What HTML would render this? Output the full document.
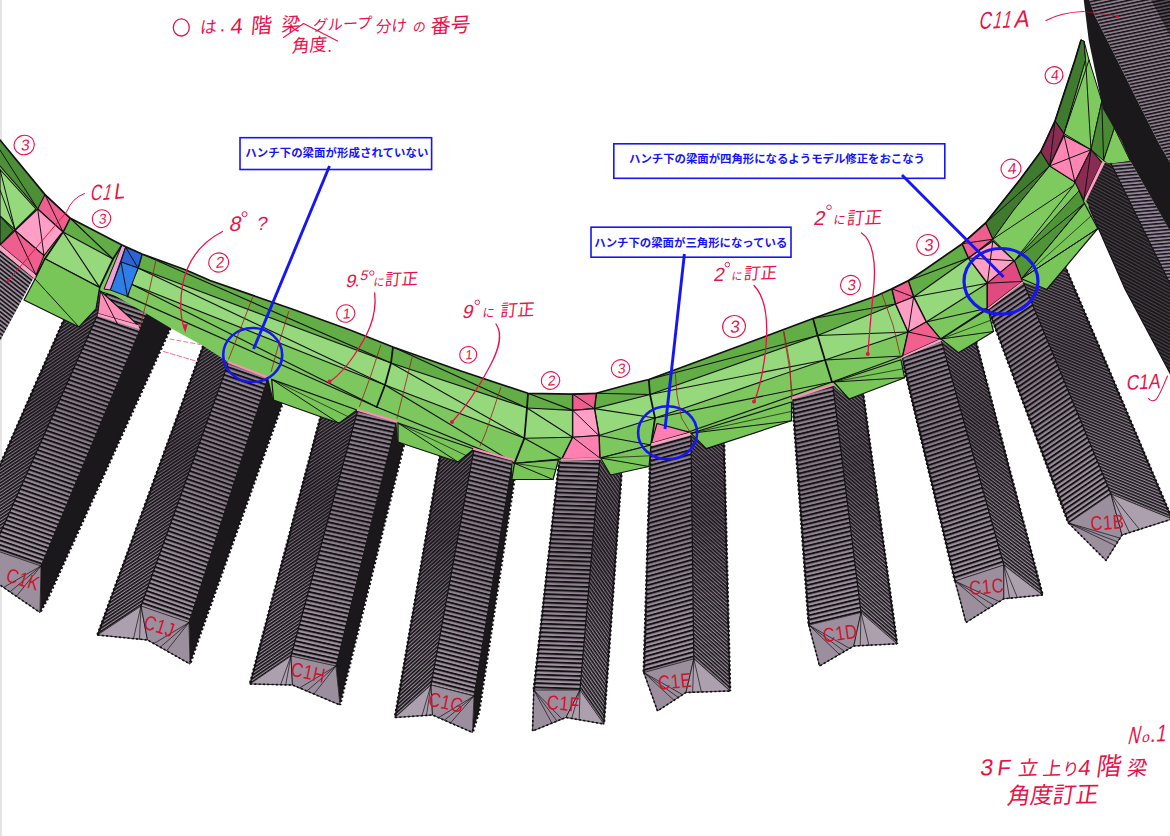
<!DOCTYPE html>
<html lang="ja"><head><meta charset="utf-8"><title>3F立上り4階梁 角度訂正 No.1</title>
<style>html,body{margin:0;padding:0;background:#fff}body{width:1170px;height:836px;overflow:hidden;font-family:"Liberation Sans",sans-serif}svg{display:block}</style>
</head><body>
<svg width="1170" height="836" viewBox="0 0 1170 836">
<defs>
<pattern id="p1" width="3.4" height="3.4" patternUnits="userSpaceOnUse" patternTransform="rotate(38)"><rect width="3.4" height="3.4" fill="#9a8c9b"/><rect width="3.4" height="1.6" fill="#141114"/></pattern>
<pattern id="p2" width="2.7" height="2.7" patternUnits="userSpaceOnUse" patternTransform="rotate(-34)"><rect width="2.7" height="2.7" fill="#9c8f9e"/><rect width="2.7" height="1.6" fill="#141114"/></pattern>
<linearGradient id="g1" gradientUnits="userSpaceOnUse" x1="110" y1="287" x2="-7" y2="549.5"><stop offset="0" stop-color="#1a141a" stop-opacity="0.3"/><stop offset="0.45" stop-color="#1a141a" stop-opacity="0.42"/><stop offset="0.85" stop-color="#1a141a" stop-opacity="0.05"/><stop offset="1" stop-color="#1a141a" stop-opacity="0.0"/></linearGradient>
<pattern id="p3" width="4.25" height="4.25" patternUnits="userSpaceOnUse" patternTransform="rotate(19)"><rect width="4.25" height="4.25" fill="#a294a3"/><rect width="4.25" height="2.0" fill="#141114"/></pattern>
<linearGradient id="g2" gradientUnits="userSpaceOnUse" x1="110" y1="287" x2="-7" y2="549.5"><stop offset="0" stop-color="#1a141a" stop-opacity="0.1"/><stop offset="0.45" stop-color="#1a141a" stop-opacity="0.22"/><stop offset="0.85" stop-color="#1a141a" stop-opacity="0.05"/><stop offset="1" stop-color="#1a141a" stop-opacity="0.0"/></linearGradient>
<pattern id="p4" width="2.7" height="2.7" patternUnits="userSpaceOnUse" patternTransform="rotate(-33.7)"><rect width="2.7" height="2.7" fill="#9c8f9e"/><rect width="2.7" height="1.6" fill="#141114"/></pattern>
<linearGradient id="g3" gradientUnits="userSpaceOnUse" x1="238.6" y1="334.1" x2="141" y2="606"><stop offset="0" stop-color="#1a141a" stop-opacity="0.3"/><stop offset="0.45" stop-color="#1a141a" stop-opacity="0.42"/><stop offset="0.85" stop-color="#1a141a" stop-opacity="0.05"/><stop offset="1" stop-color="#1a141a" stop-opacity="0.0"/></linearGradient>
<pattern id="p5" width="4.25" height="4.25" patternUnits="userSpaceOnUse" patternTransform="rotate(19)"><rect width="4.25" height="4.25" fill="#a294a3"/><rect width="4.25" height="2.0" fill="#141114"/></pattern>
<linearGradient id="g4" gradientUnits="userSpaceOnUse" x1="238.6" y1="334.1" x2="141" y2="606"><stop offset="0" stop-color="#1a141a" stop-opacity="0.1"/><stop offset="0.45" stop-color="#1a141a" stop-opacity="0.22"/><stop offset="0.85" stop-color="#1a141a" stop-opacity="0.05"/><stop offset="1" stop-color="#1a141a" stop-opacity="0.0"/></linearGradient>
<pattern id="p6" width="2.7" height="2.7" patternUnits="userSpaceOnUse" patternTransform="rotate(-34.3)"><rect width="2.7" height="2.7" fill="#9c8f9e"/><rect width="2.7" height="1.6" fill="#141114"/></pattern>
<linearGradient id="g5" gradientUnits="userSpaceOnUse" x1="365.7" y1="381" x2="291" y2="656"><stop offset="0" stop-color="#1a141a" stop-opacity="0.3"/><stop offset="0.45" stop-color="#1a141a" stop-opacity="0.42"/><stop offset="0.85" stop-color="#1a141a" stop-opacity="0.05"/><stop offset="1" stop-color="#1a141a" stop-opacity="0.0"/></linearGradient>
<pattern id="p7" width="4.25" height="4.25" patternUnits="userSpaceOnUse" patternTransform="rotate(12.5)"><rect width="4.25" height="4.25" fill="#a294a3"/><rect width="4.25" height="2.0" fill="#141114"/></pattern>
<linearGradient id="g6" gradientUnits="userSpaceOnUse" x1="365.7" y1="381" x2="291" y2="656"><stop offset="0" stop-color="#1a141a" stop-opacity="0.1"/><stop offset="0.45" stop-color="#1a141a" stop-opacity="0.22"/><stop offset="0.85" stop-color="#1a141a" stop-opacity="0.05"/><stop offset="1" stop-color="#1a141a" stop-opacity="0.0"/></linearGradient>
<pattern id="p8" width="2.7" height="2.7" patternUnits="userSpaceOnUse" patternTransform="rotate(-42.1)"><rect width="2.7" height="2.7" fill="#9c8f9e"/><rect width="2.7" height="1.6" fill="#141114"/></pattern>
<linearGradient id="g7" gradientUnits="userSpaceOnUse" x1="479.4" y1="419.5" x2="431" y2="685"><stop offset="0" stop-color="#1a141a" stop-opacity="0.3"/><stop offset="0.45" stop-color="#1a141a" stop-opacity="0.42"/><stop offset="0.85" stop-color="#1a141a" stop-opacity="0.05"/><stop offset="1" stop-color="#1a141a" stop-opacity="0.0"/></linearGradient>
<pattern id="p9" width="4.25" height="4.25" patternUnits="userSpaceOnUse" patternTransform="rotate(14.3)"><rect width="4.25" height="4.25" fill="#a294a3"/><rect width="4.25" height="2.0" fill="#141114"/></pattern>
<linearGradient id="g8" gradientUnits="userSpaceOnUse" x1="479.4" y1="419.5" x2="431" y2="685"><stop offset="0" stop-color="#1a141a" stop-opacity="0.1"/><stop offset="0.45" stop-color="#1a141a" stop-opacity="0.22"/><stop offset="0.85" stop-color="#1a141a" stop-opacity="0.05"/><stop offset="1" stop-color="#1a141a" stop-opacity="0.0"/></linearGradient>
<pattern id="p10" width="4.25" height="4.25" patternUnits="userSpaceOnUse" patternTransform="rotate(2)"><rect width="4.25" height="4.25" fill="#a294a3"/><rect width="4.25" height="2.0" fill="#141114"/></pattern>
<linearGradient id="g9" gradientUnits="userSpaceOnUse" x1="602.4" y1="429" x2="580" y2="690"><stop offset="0" stop-color="#1a141a" stop-opacity="0.1"/><stop offset="0.45" stop-color="#1a141a" stop-opacity="0.22"/><stop offset="0.85" stop-color="#1a141a" stop-opacity="0.05"/><stop offset="1" stop-color="#1a141a" stop-opacity="0.0"/></linearGradient>
<pattern id="p11" width="2.7" height="2.7" patternUnits="userSpaceOnUse" patternTransform="rotate(55.1)"><rect width="2.7" height="2.7" fill="#9c8f9e"/><rect width="2.7" height="1.5" fill="#141114"/></pattern>
<linearGradient id="g10" gradientUnits="userSpaceOnUse" x1="602.4" y1="429" x2="580" y2="690"><stop offset="0" stop-color="#1a141a" stop-opacity="0.25"/><stop offset="0.45" stop-color="#1a141a" stop-opacity="0.38"/><stop offset="0.85" stop-color="#1a141a" stop-opacity="0.05"/><stop offset="1" stop-color="#1a141a" stop-opacity="0.0"/></linearGradient>
<pattern id="p12" width="4.25" height="4.25" patternUnits="userSpaceOnUse" patternTransform="rotate(-15.4)"><rect width="4.25" height="4.25" fill="#a294a3"/><rect width="4.25" height="2.0" fill="#141114"/></pattern>
<linearGradient id="g11" gradientUnits="userSpaceOnUse" x1="690.6" y1="405" x2="693.8" y2="658.8"><stop offset="0" stop-color="#1a141a" stop-opacity="0.1"/><stop offset="0.45" stop-color="#1a141a" stop-opacity="0.22"/><stop offset="0.85" stop-color="#1a141a" stop-opacity="0.05"/><stop offset="1" stop-color="#1a141a" stop-opacity="0.0"/></linearGradient>
<pattern id="p13" width="2.7" height="2.7" patternUnits="userSpaceOnUse" patternTransform="rotate(41.7)"><rect width="2.7" height="2.7" fill="#9c8f9e"/><rect width="2.7" height="1.5" fill="#141114"/></pattern>
<linearGradient id="g12" gradientUnits="userSpaceOnUse" x1="690.6" y1="405" x2="693.8" y2="658.8"><stop offset="0" stop-color="#1a141a" stop-opacity="0.25"/><stop offset="0.45" stop-color="#1a141a" stop-opacity="0.38"/><stop offset="0.85" stop-color="#1a141a" stop-opacity="0.05"/><stop offset="1" stop-color="#1a141a" stop-opacity="0.0"/></linearGradient>
<pattern id="p14" width="4.25" height="4.25" patternUnits="userSpaceOnUse" patternTransform="rotate(-13.5)"><rect width="4.25" height="4.25" fill="#a294a3"/><rect width="4.25" height="2.0" fill="#141114"/></pattern>
<linearGradient id="g13" gradientUnits="userSpaceOnUse" x1="829.1" y1="355.2" x2="861" y2="612.5"><stop offset="0" stop-color="#1a141a" stop-opacity="0.1"/><stop offset="0.45" stop-color="#1a141a" stop-opacity="0.22"/><stop offset="0.85" stop-color="#1a141a" stop-opacity="0.05"/><stop offset="1" stop-color="#1a141a" stop-opacity="0.0"/></linearGradient>
<pattern id="p15" width="2.7" height="2.7" patternUnits="userSpaceOnUse" patternTransform="rotate(41)"><rect width="2.7" height="2.7" fill="#9c8f9e"/><rect width="2.7" height="1.5" fill="#141114"/></pattern>
<linearGradient id="g14" gradientUnits="userSpaceOnUse" x1="829.1" y1="355.2" x2="861" y2="612.5"><stop offset="0" stop-color="#1a141a" stop-opacity="0.25"/><stop offset="0.45" stop-color="#1a141a" stop-opacity="0.38"/><stop offset="0.85" stop-color="#1a141a" stop-opacity="0.05"/><stop offset="1" stop-color="#1a141a" stop-opacity="0.0"/></linearGradient>
<pattern id="p16" width="4.25" height="4.25" patternUnits="userSpaceOnUse" patternTransform="rotate(-18.2)"><rect width="4.25" height="4.25" fill="#a294a3"/><rect width="4.25" height="2.0" fill="#141114"/></pattern>
<linearGradient id="g15" gradientUnits="userSpaceOnUse" x1="933.4" y1="312.1" x2="1003.8" y2="565"><stop offset="0" stop-color="#1a141a" stop-opacity="0.1"/><stop offset="0.45" stop-color="#1a141a" stop-opacity="0.22"/><stop offset="0.85" stop-color="#1a141a" stop-opacity="0.05"/><stop offset="1" stop-color="#1a141a" stop-opacity="0.0"/></linearGradient>
<pattern id="p17" width="2.7" height="2.7" patternUnits="userSpaceOnUse" patternTransform="rotate(37.7)"><rect width="2.7" height="2.7" fill="#9c8f9e"/><rect width="2.7" height="1.5" fill="#141114"/></pattern>
<linearGradient id="g16" gradientUnits="userSpaceOnUse" x1="933.4" y1="312.1" x2="1003.8" y2="565"><stop offset="0" stop-color="#1a141a" stop-opacity="0.25"/><stop offset="0.45" stop-color="#1a141a" stop-opacity="0.38"/><stop offset="0.85" stop-color="#1a141a" stop-opacity="0.05"/><stop offset="1" stop-color="#1a141a" stop-opacity="0.0"/></linearGradient>
<pattern id="p18" width="4.25" height="4.25" patternUnits="userSpaceOnUse" patternTransform="rotate(-34.3)"><rect width="4.25" height="4.25" fill="#a294a3"/><rect width="4.25" height="2.0" fill="#141114"/></pattern>
<linearGradient id="g17" gradientUnits="userSpaceOnUse" x1="1011.8" y1="254.6" x2="1111" y2="494"><stop offset="0" stop-color="#1a141a" stop-opacity="0.1"/><stop offset="0.45" stop-color="#1a141a" stop-opacity="0.22"/><stop offset="0.85" stop-color="#1a141a" stop-opacity="0.05"/><stop offset="1" stop-color="#1a141a" stop-opacity="0.0"/></linearGradient>
<pattern id="p19" width="2.7" height="2.7" patternUnits="userSpaceOnUse" patternTransform="rotate(22.3)"><rect width="2.7" height="2.7" fill="#9c8f9e"/><rect width="2.7" height="1.5" fill="#141114"/></pattern>
<linearGradient id="g18" gradientUnits="userSpaceOnUse" x1="1011.8" y1="254.6" x2="1111" y2="494"><stop offset="0" stop-color="#1a141a" stop-opacity="0.25"/><stop offset="0.45" stop-color="#1a141a" stop-opacity="0.38"/><stop offset="0.85" stop-color="#1a141a" stop-opacity="0.05"/><stop offset="1" stop-color="#1a141a" stop-opacity="0.0"/></linearGradient>
<clipPath id="bandclip"><polygon points="0,140 45,194.6 70,218 122,245 142,254 186,270 210,280.5 292,309 350,330 393,347 458,370 528,393.3 572.8,394.2 596.2,393.3 630,384 648.8,379.5 755.6,340 813,318.5 876,296 892,288.8 908.2,280.8 924.4,270 962.3,243.7 985.6,223 1019.7,180 1040.8,151.5 1055,121 1075,60 1081,40 1089,60 1101.8,101 1128.7,153 1109,164 1107.4,162.5 1086,200 1088,206 1097.8,228.5 1046.7,289.5 1023.3,282.3 988.3,309.2 993.5,331.5 958.5,352.8 941.4,341 902,358 904.6,377.7 849,399 832.8,385 792.4,398.3 791.5,420.8 706.3,448.6 691,435 650.6,446 649,466.5 610.5,475 599.8,458.9 559.4,460.6 553,479.5 511.8,479.5 512.7,459.8 474,449 458,462 398,442 396.4,421.5 357.8,410 339,423.3 273.5,400 268,377.6 228.5,362.3 203.3,346 170.5,328 147,314 113,294.6 100.5,291 96,309 79,327 24,300 35,279 0,250"/></clipPath>
<pattern id="p20" width="3.0" height="3.0" patternUnits="userSpaceOnUse" patternTransform="rotate(28)"><rect width="3.0" height="3.0" fill="#4a424a"/><rect width="3.0" height="1.9" fill="#1a171a"/></pattern>
<pattern id="p21" width="3.4" height="3.4" patternUnits="userSpaceOnUse" patternTransform="rotate(-5)"><rect width="3.4" height="3.4" fill="#93859a"/><rect width="3.4" height="1.5" fill="#141114"/></pattern>
<pattern id="p22" width="3.3" height="3.3" patternUnits="userSpaceOnUse" patternTransform="rotate(-12)"><rect width="3.3" height="3.3" fill="#8a7b8a"/><rect width="3.3" height="1.5" fill="#141114"/></pattern>
<pattern id="p23" width="3.3" height="3.3" patternUnits="userSpaceOnUse" patternTransform="rotate(-12)"><rect width="3.3" height="3.3" fill="#5a505a"/><rect width="3.3" height="1.8" fill="#141114"/></pattern>
</defs>
<rect width="1170" height="836" fill="#fff"/>
<rect x="0" y="0" width="2" height="836" fill="#e4e4e4"/>
<polygon points="0,238 40,272 33,279 0,341" fill="url(#p1)" stroke="none" stroke-width="1" stroke-linejoin="round" />
<polygon points="74.9,294.9 110,287 -7,549.5 -50,579" fill="url(#p2)" stroke="none" stroke-width="1" stroke-linejoin="round" />
<polygon points="74.9,294.9 110,287 -7,549.5 -50,579" fill="url(#g1)" stroke="none" stroke-width="1" stroke-linejoin="round" />
<polygon points="110,287 151.6,301.9 41,566 -7,549.5" fill="url(#p3)" stroke="none" stroke-width="1" stroke-linejoin="round" />
<polygon points="110,287 151.6,301.9 41,566 -7,549.5" fill="url(#g2)" stroke="none" stroke-width="1" stroke-linejoin="round" />
<polygon points="151.6,301.9 182.9,300.7 48,598 40,612.5 41,566" fill="#1b181b" stroke="none" stroke-width="1" stroke-linejoin="round" />
<polygon points="-50,579 -7,549.5 -3,583" fill="#ada0ae" stroke="#141114" stroke-width="0.8" stroke-linejoin="round" />
<polygon points="-7,549.5 41,566 40,612.5 -3,583" fill="#9b8e9d" stroke="#141114" stroke-width="0.8" stroke-linejoin="round" />
<polyline points="41,566 3.5,587.4" fill="none" stroke="#141114" stroke-width="0.7" stroke-linecap="round" stroke-linejoin="round" />
<polyline points="41,566 9.9,591.9" fill="none" stroke="#141114" stroke-width="0.7" stroke-linecap="round" stroke-linejoin="round" />
<polyline points="41,566 16.3,596.3" fill="none" stroke="#141114" stroke-width="0.7" stroke-linecap="round" stroke-linejoin="round" />
<polyline points="-7,549.5 -16.2,581.9" fill="none" stroke="#141114" stroke-width="0.7" stroke-linecap="round" stroke-linejoin="round" />
<polyline points="-7,549.5 -10.5,582.4" fill="none" stroke="#141114" stroke-width="0.7" stroke-linecap="round" stroke-linejoin="round" />
<polyline points="74.9,294.9 -50,579" fill="none" stroke="#141114" stroke-width="1.2" stroke-linecap="round" stroke-linejoin="round" />
<polyline points="110,287 -7,549.5" fill="none" stroke="#141114" stroke-width="1.2" stroke-linecap="round" stroke-linejoin="round" />
<polyline points="151.6,301.9 41,566" fill="none" stroke="#141114" stroke-width="1.0" stroke-linecap="round" stroke-linejoin="round" />
<polyline points="74.9,294.9 -50,579" fill="none" stroke="#141114" stroke-width="2.6" stroke-linecap="butt" stroke-linejoin="round" stroke-dasharray="2.1 2.2"/>
<polyline points="182.9,300.7 48,598 40,612.5" fill="none" stroke="#141114" stroke-width="2.6" stroke-linecap="butt" stroke-linejoin="round" stroke-dasharray="2.1 2.2"/>
<polyline points="-50,579 -3,583 40,612.5" fill="none" stroke="#141114" stroke-width="1.6" stroke-linecap="butt" stroke-linejoin="round" stroke-dasharray="2.1 2.2"/>
<polygon points="213.6,317.8 238.6,334.1 141,606 97.5,635" fill="url(#p4)" stroke="none" stroke-width="1" stroke-linejoin="round" />
<polygon points="213.6,317.8 238.6,334.1 141,606 97.5,635" fill="url(#g3)" stroke="none" stroke-width="1" stroke-linejoin="round" />
<polygon points="238.6,334.1 277.2,349 189,622.5 141,606" fill="url(#p5)" stroke="none" stroke-width="1" stroke-linejoin="round" />
<polygon points="238.6,334.1 277.2,349 189,622.5 141,606" fill="url(#g4)" stroke="none" stroke-width="1" stroke-linejoin="round" />
<polygon points="277.2,349 299.1,356.7 200,635 190,664 189,622.5" fill="#1b181b" stroke="none" stroke-width="1" stroke-linejoin="round" />
<polygon points="97.5,635 141,606 147.5,640" fill="#ada0ae" stroke="#141114" stroke-width="0.8" stroke-linejoin="round" />
<polygon points="141,606 189,622.5 190,664 147.5,640" fill="#9b8e9d" stroke="#141114" stroke-width="0.8" stroke-linejoin="round" />
<polyline points="189,622.5 153.9,643.6" fill="none" stroke="#141114" stroke-width="0.7" stroke-linecap="round" stroke-linejoin="round" />
<polyline points="189,622.5 160.2,647.2" fill="none" stroke="#141114" stroke-width="0.7" stroke-linecap="round" stroke-linejoin="round" />
<polyline points="189,622.5 166.6,650.8" fill="none" stroke="#141114" stroke-width="0.7" stroke-linecap="round" stroke-linejoin="round" />
<polyline points="141,606 133.5,638.6" fill="none" stroke="#141114" stroke-width="0.7" stroke-linecap="round" stroke-linejoin="round" />
<polyline points="141,606 139.5,639.2" fill="none" stroke="#141114" stroke-width="0.7" stroke-linecap="round" stroke-linejoin="round" />
<polyline points="213.6,317.8 97.5,635" fill="none" stroke="#141114" stroke-width="1.2" stroke-linecap="round" stroke-linejoin="round" />
<polyline points="238.6,334.1 141,606" fill="none" stroke="#141114" stroke-width="1.2" stroke-linecap="round" stroke-linejoin="round" />
<polyline points="277.2,349 189,622.5" fill="none" stroke="#141114" stroke-width="1.0" stroke-linecap="round" stroke-linejoin="round" />
<polyline points="213.6,317.8 97.5,635" fill="none" stroke="#141114" stroke-width="2.6" stroke-linecap="butt" stroke-linejoin="round" stroke-dasharray="2.1 2.2"/>
<polyline points="299.1,356.7 200,635 190,664" fill="none" stroke="#141114" stroke-width="2.6" stroke-linecap="butt" stroke-linejoin="round" stroke-dasharray="2.1 2.2"/>
<polyline points="97.5,635 147.5,640 190,664" fill="none" stroke="#141114" stroke-width="1.6" stroke-linecap="butt" stroke-linejoin="round" stroke-dasharray="2.1 2.2"/>
<polygon points="327.7,389.9 365.7,381 291,656 250,684" fill="url(#p6)" stroke="none" stroke-width="1" stroke-linejoin="round" />
<polygon points="327.7,389.9 365.7,381 291,656 250,684" fill="url(#g5)" stroke="none" stroke-width="1" stroke-linejoin="round" />
<polygon points="365.7,381 403.6,392.4 336,666 291,656" fill="url(#p7)" stroke="none" stroke-width="1" stroke-linejoin="round" />
<polygon points="365.7,381 403.6,392.4 336,666 291,656" fill="url(#g6)" stroke="none" stroke-width="1" stroke-linejoin="round" />
<polygon points="403.6,392.4 416.2,394.9 346,680 340,705 336,666" fill="#1b181b" stroke="none" stroke-width="1" stroke-linejoin="round" />
<polygon points="250,684 291,656 292.5,685" fill="#ada0ae" stroke="#141114" stroke-width="0.8" stroke-linejoin="round" />
<polygon points="291,656 336,666 340,705 292.5,685" fill="#9b8e9d" stroke="#141114" stroke-width="0.8" stroke-linejoin="round" />
<polyline points="336,666 299.6,688" fill="none" stroke="#141114" stroke-width="0.7" stroke-linecap="round" stroke-linejoin="round" />
<polyline points="336,666 306.8,691" fill="none" stroke="#141114" stroke-width="0.7" stroke-linecap="round" stroke-linejoin="round" />
<polyline points="336,666 313.9,694" fill="none" stroke="#141114" stroke-width="0.7" stroke-linecap="round" stroke-linejoin="round" />
<polyline points="291,656 280.6,684.7" fill="none" stroke="#141114" stroke-width="0.7" stroke-linecap="round" stroke-linejoin="round" />
<polyline points="291,656 285.7,684.8" fill="none" stroke="#141114" stroke-width="0.7" stroke-linecap="round" stroke-linejoin="round" />
<polyline points="327.7,389.9 250,684" fill="none" stroke="#141114" stroke-width="1.2" stroke-linecap="round" stroke-linejoin="round" />
<polyline points="365.7,381 291,656" fill="none" stroke="#141114" stroke-width="1.2" stroke-linecap="round" stroke-linejoin="round" />
<polyline points="403.6,392.4 336,666" fill="none" stroke="#141114" stroke-width="1.0" stroke-linecap="round" stroke-linejoin="round" />
<polyline points="327.7,389.9 250,684" fill="none" stroke="#141114" stroke-width="2.6" stroke-linecap="butt" stroke-linejoin="round" stroke-dasharray="2.1 2.2"/>
<polyline points="416.2,394.9 346,680 340,705" fill="none" stroke="#141114" stroke-width="2.6" stroke-linecap="butt" stroke-linejoin="round" stroke-dasharray="2.1 2.2"/>
<polyline points="250,684 292.5,685 340,705" fill="none" stroke="#141114" stroke-width="1.6" stroke-linecap="butt" stroke-linejoin="round" stroke-dasharray="2.1 2.2"/>
<polygon points="444.6,429.4 479.4,419.5 431,685 395,717.5" fill="url(#p8)" stroke="none" stroke-width="1" stroke-linejoin="round" />
<polygon points="444.6,429.4 479.4,419.5 431,685 395,717.5" fill="url(#g7)" stroke="none" stroke-width="1" stroke-linejoin="round" />
<polygon points="479.4,419.5 517.6,430.2 474,696 431,685" fill="url(#p9)" stroke="none" stroke-width="1" stroke-linejoin="round" />
<polygon points="479.4,419.5 517.6,430.2 474,696 431,685" fill="url(#g8)" stroke="none" stroke-width="1" stroke-linejoin="round" />
<polygon points="517.6,430.2 521.5,432.3 479,712 472.5,732.5 474,696" fill="#1b181b" stroke="none" stroke-width="1" stroke-linejoin="round" />
<polygon points="395,717.5 431,685 432.5,715" fill="#ada0ae" stroke="#141114" stroke-width="0.8" stroke-linejoin="round" />
<polygon points="431,685 474,696 472.5,732.5 432.5,715" fill="#9b8e9d" stroke="#141114" stroke-width="0.8" stroke-linejoin="round" />
<polyline points="474,696 438.5,717.6" fill="none" stroke="#141114" stroke-width="0.7" stroke-linecap="round" stroke-linejoin="round" />
<polyline points="474,696 444.5,720.2" fill="none" stroke="#141114" stroke-width="0.7" stroke-linecap="round" stroke-linejoin="round" />
<polyline points="474,696 450.5,722.9" fill="none" stroke="#141114" stroke-width="0.7" stroke-linecap="round" stroke-linejoin="round" />
<polyline points="431,685 422,715.7" fill="none" stroke="#141114" stroke-width="0.7" stroke-linecap="round" stroke-linejoin="round" />
<polyline points="431,685 426.5,715.4" fill="none" stroke="#141114" stroke-width="0.7" stroke-linecap="round" stroke-linejoin="round" />
<polyline points="444.6,429.4 395,717.5" fill="none" stroke="#141114" stroke-width="1.2" stroke-linecap="round" stroke-linejoin="round" />
<polyline points="479.4,419.5 431,685" fill="none" stroke="#141114" stroke-width="1.2" stroke-linecap="round" stroke-linejoin="round" />
<polyline points="517.6,430.2 474,696" fill="none" stroke="#141114" stroke-width="1.0" stroke-linecap="round" stroke-linejoin="round" />
<polyline points="444.6,429.4 395,717.5" fill="none" stroke="#141114" stroke-width="2.6" stroke-linecap="butt" stroke-linejoin="round" stroke-dasharray="2.1 2.2"/>
<polyline points="521.5,432.3 479,712 472.5,732.5" fill="none" stroke="#141114" stroke-width="2.6" stroke-linecap="butt" stroke-linejoin="round" stroke-dasharray="2.1 2.2"/>
<polyline points="395,717.5 432.5,715 472.5,732.5" fill="none" stroke="#141114" stroke-width="1.6" stroke-linecap="butt" stroke-linejoin="round" stroke-dasharray="2.1 2.2"/>
<polygon points="562.7,430.8 602.4,429 580,690 533.8,690" fill="url(#p10)" stroke="none" stroke-width="1" stroke-linejoin="round" />
<polygon points="562.7,430.8 602.4,429 580,690 533.8,690" fill="url(#g9)" stroke="none" stroke-width="1" stroke-linejoin="round" />
<polygon points="602.4,429 623.4,445.1 603.8,724 580,690" fill="url(#p11)" stroke="none" stroke-width="1" stroke-linejoin="round" />
<polygon points="602.4,429 623.4,445.1 603.8,724 580,690" fill="url(#g10)" stroke="none" stroke-width="1" stroke-linejoin="round" />
<polygon points="533.8,690 580,690 566,717.5 532.5,731" fill="#9b8e9d" stroke="#141114" stroke-width="0.8" stroke-linejoin="round" />
<polygon points="580,690 603.8,724 566,717.5" fill="#ada0ae" stroke="#141114" stroke-width="0.8" stroke-linejoin="round" />
<polyline points="533.8,690 551.9,723.2" fill="none" stroke="#141114" stroke-width="0.7" stroke-linecap="round" stroke-linejoin="round" />
<polyline points="533.8,690 557,721.1" fill="none" stroke="#141114" stroke-width="0.7" stroke-linecap="round" stroke-linejoin="round" />
<polyline points="533.8,690 562,719.1" fill="none" stroke="#141114" stroke-width="0.7" stroke-linecap="round" stroke-linejoin="round" />
<polyline points="580,690 571.7,718.5" fill="none" stroke="#141114" stroke-width="0.7" stroke-linecap="round" stroke-linejoin="round" />
<polyline points="580,690 579.2,719.8" fill="none" stroke="#141114" stroke-width="0.7" stroke-linecap="round" stroke-linejoin="round" />
<polyline points="562.7,430.8 533.8,690" fill="none" stroke="#141114" stroke-width="1.2" stroke-linecap="round" stroke-linejoin="round" />
<polyline points="602.4,429 580,690" fill="none" stroke="#141114" stroke-width="1.2" stroke-linecap="round" stroke-linejoin="round" />
<polyline points="623.4,445.1 603.8,724" fill="none" stroke="#141114" stroke-width="1.2" stroke-linecap="round" stroke-linejoin="round" />
<polyline points="562.7,430.8 533.8,690" fill="none" stroke="#141114" stroke-width="2.6" stroke-linecap="butt" stroke-linejoin="round" stroke-dasharray="2.1 2.2"/>
<polyline points="623.4,445.1 603.8,724" fill="none" stroke="#141114" stroke-width="2.6" stroke-linecap="butt" stroke-linejoin="round" stroke-dasharray="2.1 2.2"/>
<polyline points="533.8,690 532.5,731 566,717.5 603.8,724" fill="none" stroke="#141114" stroke-width="1.6" stroke-linecap="butt" stroke-linejoin="round" stroke-dasharray="2.1 2.2"/>
<polygon points="651.5,416 690.6,405 693.8,658.8 643.8,672.5" fill="url(#p12)" stroke="none" stroke-width="1" stroke-linejoin="round" />
<polygon points="651.5,416 690.6,405 693.8,658.8 643.8,672.5" fill="url(#g11)" stroke="none" stroke-width="1" stroke-linejoin="round" />
<polygon points="690.6,405 723.3,415 730,691 693.8,658.8" fill="url(#p13)" stroke="none" stroke-width="1" stroke-linejoin="round" />
<polygon points="690.6,405 723.3,415 730,691 693.8,658.8" fill="url(#g12)" stroke="none" stroke-width="1" stroke-linejoin="round" />
<polygon points="643.8,672.5 693.8,658.8 686,692.5 657.5,711" fill="#9b8e9d" stroke="#141114" stroke-width="0.8" stroke-linejoin="round" />
<polygon points="693.8,658.8 730,691 686,692.5" fill="#ada0ae" stroke="#141114" stroke-width="0.8" stroke-linejoin="round" />
<polyline points="643.8,672.5 674,700.3" fill="none" stroke="#141114" stroke-width="0.7" stroke-linecap="round" stroke-linejoin="round" />
<polyline points="643.8,672.5 678.3,697.5" fill="none" stroke="#141114" stroke-width="0.7" stroke-linecap="round" stroke-linejoin="round" />
<polyline points="643.8,672.5 682.6,694.7" fill="none" stroke="#141114" stroke-width="0.7" stroke-linecap="round" stroke-linejoin="round" />
<polyline points="693.8,658.8 692.6,692.3" fill="none" stroke="#141114" stroke-width="0.7" stroke-linecap="round" stroke-linejoin="round" />
<polyline points="693.8,658.8 701.4,692" fill="none" stroke="#141114" stroke-width="0.7" stroke-linecap="round" stroke-linejoin="round" />
<polyline points="651.5,416 643.8,672.5" fill="none" stroke="#141114" stroke-width="1.2" stroke-linecap="round" stroke-linejoin="round" />
<polyline points="690.6,405 693.8,658.8" fill="none" stroke="#141114" stroke-width="1.2" stroke-linecap="round" stroke-linejoin="round" />
<polyline points="723.3,415 730,691" fill="none" stroke="#141114" stroke-width="1.2" stroke-linecap="round" stroke-linejoin="round" />
<polyline points="651.5,416 643.8,672.5" fill="none" stroke="#141114" stroke-width="2.6" stroke-linecap="butt" stroke-linejoin="round" stroke-dasharray="2.1 2.2"/>
<polyline points="723.3,415 730,691" fill="none" stroke="#141114" stroke-width="2.6" stroke-linecap="butt" stroke-linejoin="round" stroke-dasharray="2.1 2.2"/>
<polyline points="643.8,672.5 657.5,711 686,692.5 730,691" fill="none" stroke="#141114" stroke-width="1.6" stroke-linecap="butt" stroke-linejoin="round" stroke-dasharray="2.1 2.2"/>
<polygon points="790.2,368.4 829.1,355.2 861,612.5 808.8,625" fill="url(#p14)" stroke="none" stroke-width="1" stroke-linejoin="round" />
<polygon points="790.2,368.4 829.1,355.2 861,612.5 808.8,625" fill="url(#g13)" stroke="none" stroke-width="1" stroke-linejoin="round" />
<polygon points="829.1,355.2 859.3,365.9 897,643.8 861,612.5" fill="url(#p15)" stroke="none" stroke-width="1" stroke-linejoin="round" />
<polygon points="829.1,355.2 859.3,365.9 897,643.8 861,612.5" fill="url(#g14)" stroke="none" stroke-width="1" stroke-linejoin="round" />
<polygon points="808.8,625 861,612.5 853.8,646 819.5,666" fill="#9b8e9d" stroke="#141114" stroke-width="0.8" stroke-linejoin="round" />
<polygon points="861,612.5 897,643.8 853.8,646" fill="#ada0ae" stroke="#141114" stroke-width="0.8" stroke-linejoin="round" />
<polyline points="808.8,625 839.4,654.4" fill="none" stroke="#141114" stroke-width="0.7" stroke-linecap="round" stroke-linejoin="round" />
<polyline points="808.8,625 844.5,651.4" fill="none" stroke="#141114" stroke-width="0.7" stroke-linecap="round" stroke-linejoin="round" />
<polyline points="808.8,625 849.6,648.4" fill="none" stroke="#141114" stroke-width="0.7" stroke-linecap="round" stroke-linejoin="round" />
<polyline points="861,612.5 860.2,645.7" fill="none" stroke="#141114" stroke-width="0.7" stroke-linecap="round" stroke-linejoin="round" />
<polyline points="861,612.5 868.9,645.2" fill="none" stroke="#141114" stroke-width="0.7" stroke-linecap="round" stroke-linejoin="round" />
<polyline points="790.2,368.4 808.8,625" fill="none" stroke="#141114" stroke-width="1.2" stroke-linecap="round" stroke-linejoin="round" />
<polyline points="829.1,355.2 861,612.5" fill="none" stroke="#141114" stroke-width="1.2" stroke-linecap="round" stroke-linejoin="round" />
<polyline points="859.3,365.9 897,643.8" fill="none" stroke="#141114" stroke-width="1.2" stroke-linecap="round" stroke-linejoin="round" />
<polyline points="790.2,368.4 808.8,625" fill="none" stroke="#141114" stroke-width="2.6" stroke-linecap="butt" stroke-linejoin="round" stroke-dasharray="2.1 2.2"/>
<polyline points="859.3,365.9 897,643.8" fill="none" stroke="#141114" stroke-width="2.6" stroke-linecap="butt" stroke-linejoin="round" stroke-dasharray="2.1 2.2"/>
<polyline points="808.8,625 819.5,666 853.8,646 897,643.8" fill="none" stroke="#141114" stroke-width="1.6" stroke-linecap="butt" stroke-linejoin="round" stroke-dasharray="2.1 2.2"/>
<polygon points="895.1,328.8 933.4,312.1 1003.8,565 955,581" fill="url(#p16)" stroke="none" stroke-width="1" stroke-linejoin="round" />
<polygon points="895.1,328.8 933.4,312.1 1003.8,565 955,581" fill="url(#g15)" stroke="none" stroke-width="1" stroke-linejoin="round" />
<polygon points="933.4,312.1 969.4,317 1042.5,595 1003.8,565" fill="url(#p17)" stroke="none" stroke-width="1" stroke-linejoin="round" />
<polygon points="933.4,312.1 969.4,317 1042.5,595 1003.8,565" fill="url(#g16)" stroke="none" stroke-width="1" stroke-linejoin="round" />
<polygon points="955,581 1003.8,565 1003.8,598.8 966,622.5" fill="#9b8e9d" stroke="#141114" stroke-width="0.8" stroke-linejoin="round" />
<polygon points="1003.8,565 1042.5,595 1003.8,598.8" fill="#ada0ae" stroke="#141114" stroke-width="0.8" stroke-linejoin="round" />
<polyline points="955,581 987.9,608.7" fill="none" stroke="#141114" stroke-width="0.7" stroke-linecap="round" stroke-linejoin="round" />
<polyline points="955,581 993.6,605.2" fill="none" stroke="#141114" stroke-width="0.7" stroke-linecap="round" stroke-linejoin="round" />
<polyline points="955,581 999.2,601.6" fill="none" stroke="#141114" stroke-width="0.7" stroke-linecap="round" stroke-linejoin="round" />
<polyline points="1003.8,565 1009.6,598.2" fill="none" stroke="#141114" stroke-width="0.7" stroke-linecap="round" stroke-linejoin="round" />
<polyline points="1003.8,565 1017.3,597.4" fill="none" stroke="#141114" stroke-width="0.7" stroke-linecap="round" stroke-linejoin="round" />
<polyline points="895.1,328.8 955,581" fill="none" stroke="#141114" stroke-width="1.2" stroke-linecap="round" stroke-linejoin="round" />
<polyline points="933.4,312.1 1003.8,565" fill="none" stroke="#141114" stroke-width="1.2" stroke-linecap="round" stroke-linejoin="round" />
<polyline points="969.4,317 1042.5,595" fill="none" stroke="#141114" stroke-width="1.2" stroke-linecap="round" stroke-linejoin="round" />
<polyline points="895.1,328.8 955,581" fill="none" stroke="#141114" stroke-width="2.6" stroke-linecap="butt" stroke-linejoin="round" stroke-dasharray="2.1 2.2"/>
<polyline points="969.4,317 1042.5,595" fill="none" stroke="#141114" stroke-width="2.6" stroke-linecap="butt" stroke-linejoin="round" stroke-dasharray="2.1 2.2"/>
<polyline points="955,581 966,622.5 1003.8,598.8 1042.5,595" fill="none" stroke="#141114" stroke-width="1.6" stroke-linecap="butt" stroke-linejoin="round" stroke-dasharray="2.1 2.2"/>
<polygon points="977.8,281.1 1011.8,254.6 1111,494 1068.5,523" fill="url(#p18)" stroke="none" stroke-width="1" stroke-linejoin="round" />
<polygon points="977.8,281.1 1011.8,254.6 1111,494 1068.5,523" fill="url(#g17)" stroke="none" stroke-width="1" stroke-linejoin="round" />
<polygon points="1011.8,254.6 1054.7,242.1 1172,519 1111,494" fill="url(#p19)" stroke="none" stroke-width="1" stroke-linejoin="round" />
<polygon points="1011.8,254.6 1054.7,242.1 1172,519 1111,494" fill="url(#g18)" stroke="none" stroke-width="1" stroke-linejoin="round" />
<polygon points="1068.5,523 1111,494 1122,535 1106,560.5" fill="#9b8e9d" stroke="#141114" stroke-width="0.8" stroke-linejoin="round" />
<polygon points="1111,494 1172,519 1122,535" fill="#ada0ae" stroke="#141114" stroke-width="0.8" stroke-linejoin="round" />
<polyline points="1068.5,523 1115.3,545.7" fill="none" stroke="#141114" stroke-width="0.7" stroke-linecap="round" stroke-linejoin="round" />
<polyline points="1068.5,523 1117.7,541.9" fill="none" stroke="#141114" stroke-width="0.7" stroke-linecap="round" stroke-linejoin="round" />
<polyline points="1068.5,523 1120.1,538.1" fill="none" stroke="#141114" stroke-width="0.7" stroke-linecap="round" stroke-linejoin="round" />
<polyline points="1111,494 1129.5,532.6" fill="none" stroke="#141114" stroke-width="0.7" stroke-linecap="round" stroke-linejoin="round" />
<polyline points="1111,494 1139.5,529.4" fill="none" stroke="#141114" stroke-width="0.7" stroke-linecap="round" stroke-linejoin="round" />
<polyline points="977.8,281.1 1068.5,523" fill="none" stroke="#141114" stroke-width="1.2" stroke-linecap="round" stroke-linejoin="round" />
<polyline points="1011.8,254.6 1111,494" fill="none" stroke="#141114" stroke-width="1.2" stroke-linecap="round" stroke-linejoin="round" />
<polyline points="1054.7,242.1 1172,519" fill="none" stroke="#141114" stroke-width="1.2" stroke-linecap="round" stroke-linejoin="round" />
<polyline points="977.8,281.1 1068.5,523" fill="none" stroke="#141114" stroke-width="2.6" stroke-linecap="butt" stroke-linejoin="round" stroke-dasharray="2.1 2.2"/>
<polyline points="1054.7,242.1 1172,519" fill="none" stroke="#141114" stroke-width="2.6" stroke-linecap="butt" stroke-linejoin="round" stroke-dasharray="2.1 2.2"/>
<polyline points="1068.5,523 1106,560.5 1122,535 1172,519" fill="none" stroke="#141114" stroke-width="1.6" stroke-linecap="butt" stroke-linejoin="round" stroke-dasharray="2.1 2.2"/>
<polygon points="0,140 45,194.6 70,218 122,245 142,254 186,270 210,280.5 292,309 350,330 393,347 458,370 528,393.3 572.8,394.2 596.2,393.3 630,384 648.8,379.5 755.6,340 813,318.5 876,296 892,288.8 908.2,280.8 924.4,270 962.3,243.7 985.6,223 1019.7,180 1040.8,151.5 1055,121 1075,60 1081,40 1089,60 1101.8,101 1128.7,153 1109,164 1107.4,162.5 1086,200 1088,206 1097.8,228.5 1046.7,289.5 1023.3,282.3 988.3,309.2 993.5,331.5 958.5,352.8 941.4,341 902,358 904.6,377.7 849,399 832.8,385 792.4,398.3 791.5,420.8 706.3,448.6 691,435 650.6,446 649,466.5 610.5,475 599.8,458.9 559.4,460.6 553,479.5 511.8,479.5 512.7,459.8 474,449 458,462 398,442 396.4,421.5 357.8,410 339,423.3 273.5,400 268,377.6 228.5,362.3 203.3,346 170.5,328 147,314 113,294.6 100.5,291 96,309 79,327 24,300 35,279 0,250" fill="#7cc75e" stroke="none" stroke-width="1" stroke-linejoin="round" />
<g clip-path="url(#bandclip)">
<polygon points="70,218 122,245 113,259 63,232" fill="#62ad45" stroke="none" stroke-width="1" stroke-linejoin="round" />
<polygon points="63,232 113,259 99.6,287.4 45,258.7" fill="#96d87c" stroke="none" stroke-width="1" stroke-linejoin="round" />
<polygon points="142,254 393,347 391,363 138,268" fill="#62ad45" stroke="none" stroke-width="1" stroke-linejoin="round" />
<polygon points="138,268 391,363 385,385 131,284" fill="#96d87c" stroke="none" stroke-width="1" stroke-linejoin="round" />
<polygon points="393,347 528,393.3 527,408 391,363" fill="#62ad45" stroke="none" stroke-width="1" stroke-linejoin="round" />
<polygon points="391,363 527,408 524.4,438.2 385,385" fill="#96d87c" stroke="none" stroke-width="1" stroke-linejoin="round" />
<polygon points="528,393.3 572.8,394.2 572.8,410.4 527,408" fill="#62ad45" stroke="none" stroke-width="1" stroke-linejoin="round" />
<polygon points="527,408 572.8,410.4 572.8,437.3 524.4,438.2" fill="#96d87c" stroke="none" stroke-width="1" stroke-linejoin="round" />
<polygon points="596.2,393.3 648.8,379.5 650,394.5 594.4,408.6" fill="#62ad45" stroke="none" stroke-width="1" stroke-linejoin="round" />
<polygon points="594.4,408.6 650,394.5 655,418 598.9,435.5" fill="#96d87c" stroke="none" stroke-width="1" stroke-linejoin="round" />
<polygon points="648.8,379.5 813,318.5 817.6,335.5 650,394.5" fill="#62ad45" stroke="none" stroke-width="1" stroke-linejoin="round" />
<polygon points="650,394.5 817.6,335.5 825,360 655,418" fill="#96d87c" stroke="none" stroke-width="1" stroke-linejoin="round" />
<polygon points="813,318.5 892,288.8 895.7,304 817.6,335.5" fill="#62ad45" stroke="none" stroke-width="1" stroke-linejoin="round" />
<polygon points="817.6,335.5 895.7,304 908.2,332 825,360" fill="#96d87c" stroke="none" stroke-width="1" stroke-linejoin="round" />
<polygon points="908.2,280.8 962.3,243.7 968.6,258 913.6,297" fill="#62ad45" stroke="none" stroke-width="1" stroke-linejoin="round" />
<polygon points="913.6,297 968.6,258 987.4,283.2 926.2,322" fill="#96d87c" stroke="none" stroke-width="1" stroke-linejoin="round" />
<polygon points="0,140 45,194.6 37.7,209 0,166" fill="#4c8f36" stroke="none" stroke-width="1" stroke-linejoin="round" />
<polyline points="70,218 113,259" fill="none" stroke="#111" stroke-width="1.15" stroke-linecap="round" stroke-linejoin="round" />
<polyline points="63,232 113,259" fill="none" stroke="#111" stroke-width="1.15" stroke-linecap="round" stroke-linejoin="round" />
<polyline points="63,232 99.6,287.4" fill="none" stroke="#111" stroke-width="1.15" stroke-linecap="round" stroke-linejoin="round" />
<polyline points="45,258.7 99.6,287.4" fill="none" stroke="#111" stroke-width="1.15" stroke-linecap="round" stroke-linejoin="round" />
<polyline points="45,258.7 96,309" fill="none" stroke="#111" stroke-width="1.15" stroke-linecap="round" stroke-linejoin="round" />
<polyline points="35,279.4 96,309" fill="none" stroke="#111" stroke-width="1.15" stroke-linecap="round" stroke-linejoin="round" />
<polyline points="142,254 391,363" fill="none" stroke="#111" stroke-width="1.15" stroke-linecap="round" stroke-linejoin="round" />
<polyline points="138,268 391,363" fill="none" stroke="#111" stroke-width="1.15" stroke-linecap="round" stroke-linejoin="round" />
<polyline points="138,268 385,385" fill="none" stroke="#111" stroke-width="1.15" stroke-linecap="round" stroke-linejoin="round" />
<polyline points="131,284 385,385" fill="none" stroke="#111" stroke-width="1.15" stroke-linecap="round" stroke-linejoin="round" />
<polyline points="131,284 376.7,407" fill="none" stroke="#111" stroke-width="1.15" stroke-linecap="round" stroke-linejoin="round" />
<polyline points="127.4,296.4 376.7,407" fill="none" stroke="#111" stroke-width="1.15" stroke-linecap="round" stroke-linejoin="round" />
<polyline points="393,347 527,408" fill="none" stroke="#111" stroke-width="1.15" stroke-linecap="round" stroke-linejoin="round" />
<polyline points="391,363 527,408" fill="none" stroke="#111" stroke-width="1.15" stroke-linecap="round" stroke-linejoin="round" />
<polyline points="391,363 524.4,438.2" fill="none" stroke="#111" stroke-width="1.15" stroke-linecap="round" stroke-linejoin="round" />
<polyline points="385,385 524.4,438.2" fill="none" stroke="#111" stroke-width="1.15" stroke-linecap="round" stroke-linejoin="round" />
<polyline points="385,385 514.5,463.3" fill="none" stroke="#111" stroke-width="1.15" stroke-linecap="round" stroke-linejoin="round" />
<polyline points="376.7,407 514.5,463.3" fill="none" stroke="#111" stroke-width="1.15" stroke-linecap="round" stroke-linejoin="round" />
<polyline points="528,393.3 572.8,410.4" fill="none" stroke="#111" stroke-width="1.15" stroke-linecap="round" stroke-linejoin="round" />
<polyline points="527,408 572.8,410.4" fill="none" stroke="#111" stroke-width="1.15" stroke-linecap="round" stroke-linejoin="round" />
<polyline points="527,408 572.8,437.3" fill="none" stroke="#111" stroke-width="1.15" stroke-linecap="round" stroke-linejoin="round" />
<polyline points="524.4,438.2 572.8,437.3" fill="none" stroke="#111" stroke-width="1.15" stroke-linecap="round" stroke-linejoin="round" />
<polyline points="524.4,438.2 562,458.9" fill="none" stroke="#111" stroke-width="1.15" stroke-linecap="round" stroke-linejoin="round" />
<polyline points="514.5,463.3 562,458.9" fill="none" stroke="#111" stroke-width="1.15" stroke-linecap="round" stroke-linejoin="round" />
<polyline points="596.2,393.3 650,394.5" fill="none" stroke="#111" stroke-width="1.15" stroke-linecap="round" stroke-linejoin="round" />
<polyline points="594.4,408.6 650,394.5" fill="none" stroke="#111" stroke-width="1.15" stroke-linecap="round" stroke-linejoin="round" />
<polyline points="594.4,408.6 655,418" fill="none" stroke="#111" stroke-width="1.15" stroke-linecap="round" stroke-linejoin="round" />
<polyline points="598.9,435.5 655,418" fill="none" stroke="#111" stroke-width="1.15" stroke-linecap="round" stroke-linejoin="round" />
<polyline points="598.9,435.5 651,445" fill="none" stroke="#111" stroke-width="1.15" stroke-linecap="round" stroke-linejoin="round" />
<polyline points="599.8,458 651,445" fill="none" stroke="#111" stroke-width="1.15" stroke-linecap="round" stroke-linejoin="round" />
<polyline points="648.8,379.5 817.6,335.5" fill="none" stroke="#111" stroke-width="1.15" stroke-linecap="round" stroke-linejoin="round" />
<polyline points="650,394.5 817.6,335.5" fill="none" stroke="#111" stroke-width="1.15" stroke-linecap="round" stroke-linejoin="round" />
<polyline points="650,394.5 825,360" fill="none" stroke="#111" stroke-width="1.15" stroke-linecap="round" stroke-linejoin="round" />
<polyline points="655,418 825,360" fill="none" stroke="#111" stroke-width="1.15" stroke-linecap="round" stroke-linejoin="round" />
<polyline points="655,418 832,382" fill="none" stroke="#111" stroke-width="1.15" stroke-linecap="round" stroke-linejoin="round" />
<polyline points="651,445 832,382" fill="none" stroke="#111" stroke-width="1.15" stroke-linecap="round" stroke-linejoin="round" />
<polyline points="813,318.5 895.7,304" fill="none" stroke="#111" stroke-width="1.15" stroke-linecap="round" stroke-linejoin="round" />
<polyline points="817.6,335.5 895.7,304" fill="none" stroke="#111" stroke-width="1.15" stroke-linecap="round" stroke-linejoin="round" />
<polyline points="817.6,335.5 908.2,332" fill="none" stroke="#111" stroke-width="1.15" stroke-linecap="round" stroke-linejoin="round" />
<polyline points="825,360 908.2,332" fill="none" stroke="#111" stroke-width="1.15" stroke-linecap="round" stroke-linejoin="round" />
<polyline points="825,360 902.8,356" fill="none" stroke="#111" stroke-width="1.15" stroke-linecap="round" stroke-linejoin="round" />
<polyline points="832,382 902.8,356" fill="none" stroke="#111" stroke-width="1.15" stroke-linecap="round" stroke-linejoin="round" />
<polyline points="908.2,280.8 968.6,258" fill="none" stroke="#111" stroke-width="1.15" stroke-linecap="round" stroke-linejoin="round" />
<polyline points="913.6,297 968.6,258" fill="none" stroke="#111" stroke-width="1.15" stroke-linecap="round" stroke-linejoin="round" />
<polyline points="913.6,297 987.4,283.2" fill="none" stroke="#111" stroke-width="1.15" stroke-linecap="round" stroke-linejoin="round" />
<polyline points="926.2,322 987.4,283.2" fill="none" stroke="#111" stroke-width="1.15" stroke-linecap="round" stroke-linejoin="round" />
<polyline points="926.2,322 987.4,308.3" fill="none" stroke="#111" stroke-width="1.15" stroke-linecap="round" stroke-linejoin="round" />
<polyline points="940.5,339 987.4,308.3" fill="none" stroke="#111" stroke-width="1.15" stroke-linecap="round" stroke-linejoin="round" />
<polyline points="70,218 63,232 45,258.7 35,279.4" fill="none" stroke="#111" stroke-width="1.8" stroke-linecap="round" stroke-linejoin="round" />
<polyline points="122,245 113,259 99.6,287.4 96,309" fill="none" stroke="#111" stroke-width="1.8" stroke-linecap="round" stroke-linejoin="round" />
<polyline points="142,254 138,268 131,284 127.4,296.4" fill="none" stroke="#111" stroke-width="1.8" stroke-linecap="round" stroke-linejoin="round" />
<polyline points="393,347 391,363 385,385 376.7,407" fill="none" stroke="#111" stroke-width="1.8" stroke-linecap="round" stroke-linejoin="round" />
<polyline points="528,393.3 527,408 524.4,438.2 514.5,463.3" fill="none" stroke="#111" stroke-width="1.8" stroke-linecap="round" stroke-linejoin="round" />
<polyline points="572.8,394.2 572.8,410.4 572.8,437.3 562,458.9" fill="none" stroke="#111" stroke-width="1.8" stroke-linecap="round" stroke-linejoin="round" />
<polyline points="596.2,393.3 594.4,408.6 598.9,435.5 599.8,458" fill="none" stroke="#111" stroke-width="1.8" stroke-linecap="round" stroke-linejoin="round" />
<polyline points="648.8,379.5 650,394.5 655,418 651,445" fill="none" stroke="#111" stroke-width="1.8" stroke-linecap="round" stroke-linejoin="round" />
<polyline points="813,318.5 817.6,335.5 825,360 832,382" fill="none" stroke="#111" stroke-width="1.8" stroke-linecap="round" stroke-linejoin="round" />
<polyline points="892,288.8 895.7,304 908.2,332 902.8,356" fill="none" stroke="#111" stroke-width="1.8" stroke-linecap="round" stroke-linejoin="round" />
<polyline points="908.2,280.8 913.6,297 926.2,322 940.5,339" fill="none" stroke="#111" stroke-width="1.8" stroke-linecap="round" stroke-linejoin="round" />
<polyline points="962.3,243.7 968.6,258 987.4,283.2 987.4,308.3" fill="none" stroke="#111" stroke-width="1.8" stroke-linecap="round" stroke-linejoin="round" />
<polyline points="0,166 37.7,209" fill="none" stroke="#111" stroke-width="1.1" stroke-linecap="round" stroke-linejoin="round" />
<polyline points="0,150 37.7,209" fill="none" stroke="#111" stroke-width="1.0" stroke-linecap="round" stroke-linejoin="round" />
</g>
<polygon points="35,279 24,300 79,327 96,309 99.6,287.4 45,258.7" fill="#78c658" stroke="#111" stroke-width="1.2" stroke-linejoin="round" />
<polygon points="271.7,379.4 273.5,400 339,423.3 357,410" fill="#78c658" stroke="#111" stroke-width="1.2" stroke-linejoin="round" />
<polygon points="398,423 398,442 458,462 474,449" fill="#78c658" stroke="#111" stroke-width="1.2" stroke-linejoin="round" />
<polygon points="514.5,463.3 511.8,479.5 553,479.5 558.5,459.8" fill="#78c658" stroke="#111" stroke-width="1.2" stroke-linejoin="round" />
<polygon points="600.6,458 610.5,475 649,466.5 651,445" fill="#78c658" stroke="#111" stroke-width="1.2" stroke-linejoin="round" />
<polygon points="691,433.3 706.3,448.6 791.5,420.8 791.5,402" fill="#78c658" stroke="#111" stroke-width="1.2" stroke-linejoin="round" />
<polygon points="833.7,382 849,399 904.6,377.7 901,359.8" fill="#78c658" stroke="#111" stroke-width="1.2" stroke-linejoin="round" />
<polygon points="941,339 958.5,352.8 993.5,331.5 988,309" fill="#78c658" stroke="#111" stroke-width="1.2" stroke-linejoin="round" />
<polygon points="1021.5,278.7 1046.7,289.5 1097.8,228.5 1084.4,203.3" fill="#78c658" stroke="#111" stroke-width="1.2" stroke-linejoin="round" />
<polygon points="985.6,223 1019.7,180 1040.8,151.5 1049.7,166 1013.8,210 992.8,239.2" fill="#3f7a2f" stroke="#111" stroke-width="1.0" stroke-linejoin="round" />
<polygon points="992.8,239.2 1013.8,210 1049.7,166 1074.9,182 1073.6,185.4 1014.4,260.8" fill="#7fca5e" stroke="#111" stroke-width="1.0" stroke-linejoin="round" />
<polygon points="1014.4,260.8 1079,190.8 1084.4,203.3 1021.5,278.7" fill="#4f9436" stroke="#111" stroke-width="1.0" stroke-linejoin="round" />
<polygon points="1081,40 1075,60 1055,121 1064,133.6 1085.6,60 1084,41" fill="#3f7a2f" stroke="#111" stroke-width="1.0" stroke-linejoin="round" />
<polygon points="1085.6,60 1084,41 1089,60 1101.8,101.3 1091,149.7 1064,133.6" fill="#7fca5e" stroke="#111" stroke-width="1.0" stroke-linejoin="round" />
<polygon points="1101.8,101.3 1114.4,128 1103.6,160.5 1091,149.7" fill="#4a8a34" stroke="#111" stroke-width="1.0" stroke-linejoin="round" />
<polygon points="1114.4,128 1130.5,161.5 1109,164.5 1103.6,160.5" fill="#7fca5e" stroke="#111" stroke-width="1.0" stroke-linejoin="round" />
<polygon points="0,169.5 36,209 15,229.6 0,216" fill="#96d87c" stroke="#111" stroke-width="1.1" stroke-linejoin="round" />
<polygon points="0,216 13.5,230.5 0,245" fill="#3f7a2f" stroke="#111" stroke-width="1.1" stroke-linejoin="round" />
<polygon points="45,194.6 70,218 63,232 37.7,209" fill="#ee5f90" stroke="#111" stroke-width="1.1" stroke-linejoin="round" />
<polygon points="37.7,209 63,232 60,235 44,255.6 15,230.5" fill="#ff9fc6" stroke="#111" stroke-width="1.1" stroke-linejoin="round" />
<polygon points="15,230.5 44,255.6 36,275 0,245" fill="#ee5f90" stroke="#111" stroke-width="1.1" stroke-linejoin="round" />
<polygon points="0,245 36,275 35,279 0,250" fill="#ff9fc6" stroke="none" stroke-width="1" stroke-linejoin="round" />
<polygon points="122,245 125.6,247 110.4,290 104,289" fill="#f0a0d8" stroke="#111" stroke-width="1.0" stroke-linejoin="round" />
<polygon points="125.6,247 142,254 138,268 121,262" fill="#2a64d6" stroke="#111" stroke-width="1.0" stroke-linejoin="round" />
<polygon points="121,262 138,268 127.4,296.4 110.4,290" fill="#2f7de8" stroke="#111" stroke-width="1.0" stroke-linejoin="round" />
<polygon points="100.5,291 138,325 97.8,313.5" fill="#ff8fb8" stroke="#111" stroke-width="1.1" stroke-linejoin="round" />
<polygon points="97.8,313.5 138,325 140,329.6 97.8,316" fill="#ff9fc6" stroke="none" stroke-width="1" stroke-linejoin="round" />
<polygon points="572.8,394.2 596.2,393.3 594.4,408.6 572.8,410.4" fill="#ee5f90" stroke="#111" stroke-width="1.1" stroke-linejoin="round" />
<polygon points="572.8,410.4 594.4,408.6 598.9,435.5 572.8,437.3" fill="#ff9fc6" stroke="#111" stroke-width="1.1" stroke-linejoin="round" />
<polygon points="572.8,437.3 598.9,435.5 599.8,458 562,458.9" fill="#ff7fb0" stroke="#111" stroke-width="1.1" stroke-linejoin="round" />
<polygon points="657,423.5 690,432.4 651.5,443.2" fill="#ff7fb0" stroke="#111" stroke-width="1.1" stroke-linejoin="round" />
<polygon points="651.5,443.2 690,432.4 691,435 650.6,446" fill="#ff9fc6" stroke="none" stroke-width="1" stroke-linejoin="round" />
<polygon points="892,288.8 908.2,280.8 913.6,297 895.7,304" fill="#ee5f90" stroke="#111" stroke-width="1.1" stroke-linejoin="round" />
<polygon points="895.7,304 913.6,297 926.2,322 908.2,332" fill="#ff9fc6" stroke="#111" stroke-width="1.1" stroke-linejoin="round" />
<polygon points="908.2,332 926.2,322 940.5,339 902.8,356" fill="#f2608f" stroke="#111" stroke-width="1.1" stroke-linejoin="round" />
<polygon points="902.8,356 940.5,339 941.4,341 902,358" fill="#ff9fc6" stroke="none" stroke-width="1" stroke-linejoin="round" />
<polygon points="962.3,243.7 985.6,223 992.8,239.2 968.6,258" fill="#ee5f90" stroke="#111" stroke-width="1.1" stroke-linejoin="round" />
<polygon points="968.6,258 992.8,241 1014.4,260.8 987.4,283.2" fill="#ff9fc6" stroke="#111" stroke-width="1.1" stroke-linejoin="round" />
<polygon points="987.4,283.2 1014.4,260.8 1022.4,281.4 987.4,308.3" fill="#e04a80" stroke="#111" stroke-width="1.1" stroke-linejoin="round" />
<polygon points="987.4,308.3 1022.4,281.4 1023.3,282.3 988.3,309.2" fill="#ff9fc6" stroke="none" stroke-width="1" stroke-linejoin="round" />
<polygon points="1055,121 1064,133.6 1049.7,166 1040.8,151.5" fill="#8a2c52" stroke="#111" stroke-width="1.1" stroke-linejoin="round" />
<polygon points="1064,135.4 1091,149.7 1074.9,182 1049.7,166" fill="#ff86b4" stroke="#111" stroke-width="1.1" stroke-linejoin="round" />
<polygon points="1091,149.7 1101.8,162.3 1083.9,200 1074.9,182" fill="#8a2c52" stroke="#111" stroke-width="1.1" stroke-linejoin="round" />
<polygon points="1101.8,162.3 1107.4,162.5 1086,200 1083.9,200" fill="#ff9fc6" stroke="none" stroke-width="1" stroke-linejoin="round" />
<polyline points="228.5,362.3 266,376.7" fill="none" stroke="#ff8fb8" stroke-width="2.2" stroke-linecap="round" stroke-linejoin="round" />
<polyline points="357.8,410 396.4,421.5" fill="none" stroke="#ff8fb8" stroke-width="2.2" stroke-linecap="round" stroke-linejoin="round" />
<polyline points="474,449 512.7,459.8" fill="none" stroke="#ff8fb8" stroke-width="2.2" stroke-linecap="round" stroke-linejoin="round" />
<polyline points="562,459.5 599.8,458.6" fill="none" stroke="#ff8fb8" stroke-width="2.2" stroke-linecap="round" stroke-linejoin="round" />
<polyline points="792.4,398.3 832.8,385" fill="none" stroke="#ff8fb8" stroke-width="2.2" stroke-linecap="round" stroke-linejoin="round" />
<polyline points="0,140 45,194.6 70,218 122,245 142,254 186,270 210,280.5 292,309 350,330 393,347 458,370 528,393.3 572.8,394.2 596.2,393.3 630,384 648.8,379.5 755.6,340 813,318.5 876,296 892,288.8 908.2,280.8 924.4,270 962.3,243.7 985.6,223 1019.7,180 1040.8,151.5 1055,121 1075,60 1081,40" fill="none" stroke="#111" stroke-width="1.7" stroke-linecap="round" stroke-linejoin="round" />
<polyline points="35,279 79,327" fill="none" stroke="#111" stroke-width="1.0" stroke-linecap="round" stroke-linejoin="round" />
<polyline points="271.7,379.4 339,423.3" fill="none" stroke="#111" stroke-width="1.0" stroke-linecap="round" stroke-linejoin="round" />
<polyline points="271.7,379.4 348,416.6" fill="none" stroke="#111" stroke-width="0.7" stroke-linecap="round" stroke-linejoin="round" />
<polyline points="398,423 458,462" fill="none" stroke="#111" stroke-width="1.0" stroke-linecap="round" stroke-linejoin="round" />
<polyline points="398,423 466,455.5" fill="none" stroke="#111" stroke-width="0.7" stroke-linecap="round" stroke-linejoin="round" />
<polyline points="514.5,463.3 553,479.5" fill="none" stroke="#111" stroke-width="1.0" stroke-linecap="round" stroke-linejoin="round" />
<polyline points="514.5,463.3 555.8,469.6" fill="none" stroke="#111" stroke-width="0.7" stroke-linecap="round" stroke-linejoin="round" />
<polyline points="600.6,458 649,466.5" fill="none" stroke="#111" stroke-width="1.0" stroke-linecap="round" stroke-linejoin="round" />
<polyline points="600.6,458 650,455.8" fill="none" stroke="#111" stroke-width="0.7" stroke-linecap="round" stroke-linejoin="round" />
<polyline points="691,433.3 791.5,420.8" fill="none" stroke="#111" stroke-width="1.0" stroke-linecap="round" stroke-linejoin="round" />
<polyline points="691,433.3 791.5,411.4" fill="none" stroke="#111" stroke-width="0.7" stroke-linecap="round" stroke-linejoin="round" />
<polyline points="833.7,382 904.6,377.7" fill="none" stroke="#111" stroke-width="1.0" stroke-linecap="round" stroke-linejoin="round" />
<polyline points="833.7,382 902.8,368.8" fill="none" stroke="#111" stroke-width="0.7" stroke-linecap="round" stroke-linejoin="round" />
<polyline points="941,339 993.5,331.5" fill="none" stroke="#111" stroke-width="1.0" stroke-linecap="round" stroke-linejoin="round" />
<polyline points="941,339 990.8,320.2" fill="none" stroke="#111" stroke-width="0.7" stroke-linecap="round" stroke-linejoin="round" />
<polyline points="1021.5,278.7 1097.8,228.5" fill="none" stroke="#111" stroke-width="1.0" stroke-linecap="round" stroke-linejoin="round" />
<polyline points="1021.5,278.7 1091.1,215.9" fill="none" stroke="#111" stroke-width="0.7" stroke-linecap="round" stroke-linejoin="round" />
<polyline points="37.7,209 44,255.6" fill="none" stroke="#111" stroke-width="1.0" stroke-linecap="round" stroke-linejoin="round" />
<polyline points="45,194.6 63,232" fill="none" stroke="#111" stroke-width="1.0" stroke-linecap="round" stroke-linejoin="round" />
<polyline points="15,230.5 36,275" fill="none" stroke="#111" stroke-width="1.0" stroke-linecap="round" stroke-linejoin="round" />
<polyline points="22,237 44,255.6" fill="none" stroke="#111" stroke-width="1.0" stroke-linecap="round" stroke-linejoin="round" />
<polyline points="0,169.5 15,229.6" fill="none" stroke="#111" stroke-width="1.0" stroke-linecap="round" stroke-linejoin="round" />
<polyline points="0,190 15,229.6" fill="none" stroke="#111" stroke-width="1.0" stroke-linecap="round" stroke-linejoin="round" />
<polyline points="125.6,247 138,268" fill="none" stroke="#111" stroke-width="1.0" stroke-linecap="round" stroke-linejoin="round" />
<polyline points="121,262 127.4,296.4" fill="none" stroke="#111" stroke-width="1.0" stroke-linecap="round" stroke-linejoin="round" />
<polyline points="572.8,394.2 594.4,408.6" fill="none" stroke="#111" stroke-width="1.0" stroke-linecap="round" stroke-linejoin="round" />
<polyline points="572.8,410.4 598.9,435.5" fill="none" stroke="#111" stroke-width="1.0" stroke-linecap="round" stroke-linejoin="round" />
<polyline points="572.8,437.3 599.8,458" fill="none" stroke="#111" stroke-width="1.0" stroke-linecap="round" stroke-linejoin="round" />
<polyline points="892,288.8 913.6,297" fill="none" stroke="#111" stroke-width="1.0" stroke-linecap="round" stroke-linejoin="round" />
<polyline points="913.6,297 908.2,332" fill="none" stroke="#111" stroke-width="1.0" stroke-linecap="round" stroke-linejoin="round" />
<polyline points="908.2,332 940.5,339" fill="none" stroke="#111" stroke-width="1.0" stroke-linecap="round" stroke-linejoin="round" />
<polyline points="962.3,243.7 992.8,239.2" fill="none" stroke="#111" stroke-width="1.0" stroke-linecap="round" stroke-linejoin="round" />
<polyline points="968.6,258 1014.4,260.8" fill="none" stroke="#111" stroke-width="1.0" stroke-linecap="round" stroke-linejoin="round" />
<polyline points="987.4,283.2 1022.4,281.4" fill="none" stroke="#111" stroke-width="1.0" stroke-linecap="round" stroke-linejoin="round" />
<polyline points="987.4,283.2 992.8,241" fill="none" stroke="#111" stroke-width="1.0" stroke-linecap="round" stroke-linejoin="round" />
<polyline points="1055,121 1049.7,166" fill="none" stroke="#111" stroke-width="1.0" stroke-linecap="round" stroke-linejoin="round" />
<polyline points="1064,135.4 1074.9,182" fill="none" stroke="#111" stroke-width="1.0" stroke-linecap="round" stroke-linejoin="round" />
<polyline points="1049.7,166 1091,149.7" fill="none" stroke="#111" stroke-width="1.0" stroke-linecap="round" stroke-linejoin="round" />
<polyline points="1091,149.7 1083.9,200" fill="none" stroke="#111" stroke-width="1.0" stroke-linecap="round" stroke-linejoin="round" />
<polyline points="992.8,239.2 1073.6,185.4" fill="none" stroke="#111" stroke-width="1.0" stroke-linecap="round" stroke-linejoin="round" />
<polyline points="1014.4,260.8 1084.4,203.3" fill="none" stroke="#111" stroke-width="1.0" stroke-linecap="round" stroke-linejoin="round" />
<polyline points="1021.5,278.7 1097.8,228.5" fill="none" stroke="#111" stroke-width="1.0" stroke-linecap="round" stroke-linejoin="round" />
<polyline points="985.6,223 1049.7,166" fill="none" stroke="#111" stroke-width="1.0" stroke-linecap="round" stroke-linejoin="round" />
<polyline points="1064,133.6 1089,60" fill="none" stroke="#111" stroke-width="1.0" stroke-linecap="round" stroke-linejoin="round" />
<polyline points="1085.6,60 1091,149.7" fill="none" stroke="#111" stroke-width="1.0" stroke-linecap="round" stroke-linejoin="round" />
<polyline points="1101.8,101.3 1103.6,160.5" fill="none" stroke="#111" stroke-width="1.0" stroke-linecap="round" stroke-linejoin="round" />
<polyline points="100.5,291 118,325" fill="none" stroke="#111" stroke-width="1.0" stroke-linecap="round" stroke-linejoin="round" />
<polygon points="1105,162.6 1111,163.4 1172,288 1172,377 1125,289 1089,207 1086,201" fill="url(#p20)" stroke="none" stroke-width="1" stroke-linejoin="round" />
<polygon points="1111,163.4 1130.3,160.9 1172,234 1172,288" fill="url(#p21)" stroke="none" stroke-width="1" stroke-linejoin="round" />
<polyline points="1111,163.4 1172,288" fill="none" stroke="#141114" stroke-width="1.2" stroke-linecap="round" stroke-linejoin="round" />
<polyline points="1089,207 1125,289 1172,377" fill="none" stroke="#141114" stroke-width="1.2" stroke-linecap="round" stroke-linejoin="round" />
<polygon points="1088.7,-2 1094.3,14.4 1115.9,57.4 1138.8,103.4 1159,143.6 1172,166 1172,-2" fill="url(#p22)" stroke="none" stroke-width="1" stroke-linejoin="round" />
<polygon points="1150,-2 1172,40 1172,-2" fill="url(#p23)" stroke="none" stroke-width="1" stroke-linejoin="round" />
<polygon points="1083.5,-2 1088.7,40 1103,109 1121,140 1130.3,160.9 1172,234.5 1172,166 1159,143.6 1138.8,103.4 1115.9,57.4 1094.3,14.4 1088.7,-2" fill="#1b181b" stroke="none" stroke-width="1" stroke-linejoin="round" />
<ellipse cx="252.7" cy="355" rx="29.5" ry="27" fill="none" stroke="#1616f5" stroke-width="2.6"/>
<ellipse cx="667.6" cy="432.8" rx="29.5" ry="26.5" fill="none" stroke="#1616f5" stroke-width="2.6"/>
<ellipse cx="1001" cy="281.3" rx="37" ry="32.8" fill="none" stroke="#1616f5" stroke-width="3.2"/>
<rect x="240" y="137.7" width="191.60000000000002" height="31.80000000000001" fill="#fff" stroke="#1616f5" stroke-width="1.6"/>
<text x="245.3" y="157.1" font-family="'Liberation Sans', 'Noto Sans CJK JP', sans-serif" font-size="11.4" font-weight="bold" fill="#1616f5" textLength="183">ハンチ下の梁面が形成されていない</text>
<rect x="613.8" y="143.8" width="331.0" height="34.5" fill="#fff" stroke="#1616f5" stroke-width="1.6"/>
<text x="629" y="162.6" font-family="'Liberation Sans', 'Noto Sans CJK JP', sans-serif" font-size="11.4" font-weight="bold" fill="#1616f5" textLength="296">ハンチ下の梁面が四角形になるようモデル修正をおこなう</text>
<rect x="591" y="227.2" width="200" height="30.0" fill="#fff" stroke="#1616f5" stroke-width="1.6"/>
<text x="594.3" y="246.8" font-family="'Liberation Sans', 'Noto Sans CJK JP', sans-serif" font-size="11.4" font-weight="bold" fill="#1616f5" textLength="193">ハンチ下の梁面が三角形になっている</text>
<polyline points="329.5,166 253.6,349" fill="none" stroke="#1616f5" stroke-width="2.9" stroke-linecap="butt" stroke-linejoin="round" />
<polyline points="684.4,254 665,429" fill="none" stroke="#1616f5" stroke-width="2.9" stroke-linecap="butt" stroke-linejoin="round" />
<polyline points="902,175 1003.6,277" fill="none" stroke="#1616f5" stroke-width="2.9" stroke-linecap="butt" stroke-linejoin="round" />
<ellipse cx="181.3" cy="27.4" rx="8" ry="8.6" fill="none" stroke="#e6134a" stroke-width="1.3" transform="rotate(0 181.3 27.4)"/>
<g font-family="'Liberation Sans', 'Noto Sans CJK JP', sans-serif" fill="#e6134a">
<text x="1.5" y="0" font-size="17" transform="translate(198 33.5) rotate(-3) skewX(-8)">は</text>
<text x="0" y="0" font-size="20" transform="translate(219.5 31.5) rotate(-3) skewX(-8)">.</text>
<text x="0" y="0" font-size="22" transform="translate(230 34) rotate(-3) skewX(-8)">4</text>
<text x="1" y="0" font-size="21" transform="translate(249.5 33.5) rotate(-3) skewX(-8)">階</text>
<text x="0.5" y="0" font-size="19" transform="translate(280.5 31.5) rotate(-3) skewX(-8)">梁</text>
<text x="1" y="0" font-size="15" textLength="59" lengthAdjust="spacingAndGlyphs" transform="translate(311.5 31) rotate(-3) skewX(-8)">グループ</text>
<text x="0" y="0" font-size="16" textLength="31" lengthAdjust="spacingAndGlyphs" transform="translate(375.5 32.5) rotate(-3) skewX(-8)">分け</text>
<text x="1" y="0" font-size="13" transform="translate(411.5 32) rotate(-3) skewX(-8)">の</text>
<text x="0" y="0" font-size="20" textLength="40" lengthAdjust="spacingAndGlyphs" transform="translate(430 33.5) rotate(-3) skewX(-8)">番号</text>
<text x="0.5" y="0" font-size="18" textLength="35" lengthAdjust="spacingAndGlyphs" transform="translate(291 52.5) rotate(-3) skewX(-8)">角度</text>
<text x="0" y="0" font-size="18" transform="translate(327 52) rotate(-3) skewX(-8)">.</text>
</g>
<path d="M283.5,37.5 L303.6,23.5 L337.5,41" fill="none" stroke="#e6134a" stroke-width="1.1" stroke-linecap="round" stroke-linejoin="round" />
<ellipse cx="24.2" cy="145" rx="10.2" ry="9.7" fill="none" stroke="#e6134a" stroke-width="1.1" transform="rotate(-20 24.2 145)"/>
<text font-family="'Liberation Sans', sans-serif" font-size="15.5" fill="#e6134a" transform="translate(20.8 150.7) rotate(-5) skewX(-10)">3</text>
<ellipse cx="101.5" cy="218.7" rx="9.3" ry="8.8" fill="none" stroke="#e6134a" stroke-width="1.1" transform="rotate(-20 101.5 218.7)"/>
<text font-family="'Liberation Sans', sans-serif" font-size="14" fill="#e6134a" transform="translate(98.5 223.9) rotate(-5) skewX(-10)">3</text>
<ellipse cx="218.7" cy="262.5" rx="10" ry="9.5" fill="none" stroke="#e6134a" stroke-width="1.1" transform="rotate(-20 218.7 262.5)"/>
<text font-family="'Liberation Sans', sans-serif" font-size="15.5" fill="#e6134a" transform="translate(215.5 268.1) rotate(-5) skewX(-10)">2</text>
<ellipse cx="345.7" cy="313.5" rx="9.2" ry="8.7" fill="none" stroke="#e6134a" stroke-width="1.1" transform="rotate(-20 345.7 313.5)"/>
<text font-family="'Liberation Sans', sans-serif" font-size="14" fill="#e6134a" transform="translate(342.9 318.6) rotate(-5) skewX(-10)" x="-0.5">1</text>
<ellipse cx="468.2" cy="354.7" rx="8.6" ry="8.2" fill="none" stroke="#e6134a" stroke-width="1.1" transform="rotate(-20 468.2 354.7)"/>
<text font-family="'Liberation Sans', sans-serif" font-size="13" fill="#e6134a" transform="translate(465.6 359.5) rotate(-5) skewX(-10)" x="-0.5">1</text>
<ellipse cx="550.5" cy="380.5" rx="9.3" ry="8.8" fill="none" stroke="#e6134a" stroke-width="1.1" transform="rotate(-20 550.5 380.5)"/>
<text font-family="'Liberation Sans', sans-serif" font-size="14" fill="#e6134a" transform="translate(547.5 385.7) rotate(-5) skewX(-10)">2</text>
<ellipse cx="620.5" cy="368.5" rx="9.3" ry="8.8" fill="none" stroke="#e6134a" stroke-width="1.1" transform="rotate(-20 620.5 368.5)"/>
<text font-family="'Liberation Sans', sans-serif" font-size="14" fill="#e6134a" transform="translate(617.5 373.7) rotate(-5) skewX(-10)">3</text>
<ellipse cx="734" cy="326.5" rx="11.5" ry="10.9" fill="none" stroke="#e6134a" stroke-width="1.1" transform="rotate(-20 734 326.5)"/>
<text font-family="'Liberation Sans', sans-serif" font-size="17" fill="#e6134a" transform="translate(730.1 332.9) rotate(-5) skewX(-10)">3</text>
<ellipse cx="850.5" cy="285" rx="10" ry="9.5" fill="none" stroke="#e6134a" stroke-width="1.1" transform="rotate(-20 850.5 285)"/>
<text font-family="'Liberation Sans', sans-serif" font-size="15" fill="#e6134a" transform="translate(847.2 290.6) rotate(-5) skewX(-10)">3</text>
<ellipse cx="927.7" cy="245" rx="11" ry="10.4" fill="none" stroke="#e6134a" stroke-width="1.1" transform="rotate(-20 927.7 245)"/>
<text font-family="'Liberation Sans', sans-serif" font-size="16.5" fill="#e6134a" transform="translate(924 251.1) rotate(-5) skewX(-10)">3</text>
<ellipse cx="1011" cy="168.7" rx="10" ry="9.5" fill="none" stroke="#e6134a" stroke-width="1.1" transform="rotate(-20 1011 168.7)"/>
<text font-family="'Liberation Sans', sans-serif" font-size="15.5" fill="#e6134a" transform="translate(1007.4 174.3) rotate(-5) skewX(-10)">4</text>
<ellipse cx="1054" cy="75.2" rx="9" ry="8.5" fill="none" stroke="#e6134a" stroke-width="1.1" transform="rotate(-20 1054 75.2)"/>
<text font-family="'Liberation Sans', sans-serif" font-size="14" fill="#e6134a" transform="translate(1050.8 80.2) rotate(-5) skewX(-10)">4</text>
<text font-family="'Liberation Sans', sans-serif" font-size="22" fill="#e6134a" textLength="11.5" lengthAdjust="spacingAndGlyphs" transform="translate(89.5 200.5) rotate(-4) skewX(-12)" x="0.5">C</text>
<text font-family="'Liberation Sans', sans-serif" font-size="22" fill="#e6134a" textLength="8" lengthAdjust="spacingAndGlyphs" transform="translate(103 200) rotate(-4) skewX(-18)" x="-1">1</text>
<text font-family="'Liberation Sans', sans-serif" font-size="22" fill="#e6134a" textLength="11" lengthAdjust="spacingAndGlyphs" transform="translate(113 199) rotate(-4) skewX(-12)" x="0.5">L</text>
<path d="M84.5,193.5 Q72,198 66.5,212 L8,281" fill="none" stroke="#e6134a" stroke-width="1.0" stroke-linecap="round" stroke-linejoin="round" />
<circle cx="8" cy="281" r="1.5" fill="#e6134a"/>
<text font-family="'Liberation Sans', sans-serif" font-size="21" fill="#e6134a" transform="translate(228.5 231) rotate(0) skewX(-12)">8</text>
<ellipse cx="244.5" cy="214.2" rx="2.5" ry="2.5" fill="none" stroke="#e6134a" stroke-width="1.0" transform="rotate(0 244.5 214.2)"/>
<text font-family="'Liberation Sans', sans-serif" font-size="19" fill="#e6134a" transform="translate(256 229.5) rotate(0) skewX(-10)">?</text>
<path d="M222.5,231.5 C200,243 187,262 182.5,285 C179.5,303 180.5,318 184.5,329" fill="none" stroke="#e6134a" stroke-width="1.3" stroke-linecap="round" stroke-linejoin="round" />
<polygon points="182.8,324.5 187.8,324 185.2,333" fill="#e6134a" stroke="none" stroke-width="1" stroke-linejoin="round" />
<text font-family="'Liberation Sans', sans-serif" font-size="18" fill="#e6134a" transform="translate(345 286.5) rotate(0) skewX(-14)">9</text>
<text font-family="'Liberation Sans', sans-serif" font-size="18" fill="#e6134a" transform="translate(355 286.5) rotate(-3) skewX(-8)" x="-0.5">.</text>
<text font-family="'Liberation Sans', sans-serif" font-size="14" fill="#e6134a" transform="translate(359.5 280) rotate(0) skewX(-14)">5</text>
<ellipse cx="371.8" cy="273" rx="2.2" ry="2.2" fill="none" stroke="#e6134a" stroke-width="0.9" transform="rotate(0 371.8 273)"/>
<text font-family="'Liberation Sans', 'Noto Sans CJK JP', sans-serif" font-size="11" fill="#e6134a" transform="translate(372.5 285.5) rotate(0) skewX(-8)" x="0.5">に</text>
<text font-family="'Liberation Sans', 'Noto Sans CJK JP', sans-serif" font-size="16.5" fill="#e6134a" textLength="33" lengthAdjust="spacingAndGlyphs" transform="translate(384.5 285.5) rotate(-2) skewX(-8)">訂正</text>
<path d="M374.7,293 C377.5,318 366,338 354,355.5 C347,366 338,376 330,381.5" fill="none" stroke="#e6134a" stroke-width="1.3" stroke-linecap="round" stroke-linejoin="round" />
<circle cx="329.5" cy="381.5" r="2.0" fill="#e6134a"/>
<text font-family="'Liberation Sans', sans-serif" font-size="19" fill="#e6134a" transform="translate(461.5 317.5) rotate(0) skewX(-14)">9</text>
<ellipse cx="477.3" cy="302.3" rx="2.3" ry="2.3" fill="none" stroke="#e6134a" stroke-width="0.9" transform="rotate(0 477.3 302.3)"/>
<text font-family="'Liberation Sans', 'Noto Sans CJK JP', sans-serif" font-size="12" fill="#e6134a" transform="translate(481.5 316.5) rotate(0) skewX(-8)" x="0.5">に</text>
<text font-family="'Liberation Sans', 'Noto Sans CJK JP', sans-serif" font-size="17" fill="#e6134a" textLength="34" lengthAdjust="spacingAndGlyphs" transform="translate(500 316.5) rotate(-2) skewX(-8)">訂正</text>
<path d="M496,324 C503.5,335 498.5,350 490,366 C480,385 465,408 452.5,421.5" fill="none" stroke="#e6134a" stroke-width="1.3" stroke-linecap="round" stroke-linejoin="round" />
<circle cx="452" cy="422" r="2.0" fill="#e6134a"/>
<text font-family="'Liberation Sans', sans-serif" font-size="19" fill="#e6134a" transform="translate(713 280.5) rotate(0) skewX(-12)">2</text>
<ellipse cx="727.3" cy="264.6" rx="2.3" ry="2.3" fill="none" stroke="#e6134a" stroke-width="0.9" transform="rotate(0 727.3 264.6)"/>
<text font-family="'Liberation Sans', 'Noto Sans CJK JP', sans-serif" font-size="11" fill="#e6134a" transform="translate(730.5 279.5) rotate(0) skewX(-8)" x="0.5">に</text>
<text font-family="'Liberation Sans', 'Noto Sans CJK JP', sans-serif" font-size="16.5" fill="#e6134a" textLength="33" lengthAdjust="spacingAndGlyphs" transform="translate(743.5 279.5) rotate(-2) skewX(-8)">訂正</text>
<path d="M754,285.5 C768,300 768.5,330 764.5,359 C762,377 758,392 754.5,401" fill="none" stroke="#e6134a" stroke-width="1.3" stroke-linecap="round" stroke-linejoin="round" />
<circle cx="754" cy="401.5" r="2.0" fill="#e6134a"/>
<text font-family="'Liberation Sans', sans-serif" font-size="20" fill="#e6134a" transform="translate(813 224.5) rotate(0) skewX(-12)">2</text>
<ellipse cx="829" cy="207.3" rx="2.3" ry="2.3" fill="none" stroke="#e6134a" stroke-width="0.9" transform="rotate(0 829 207.3)"/>
<text font-family="'Liberation Sans', 'Noto Sans CJK JP', sans-serif" font-size="12" fill="#e6134a" transform="translate(832.5 224) rotate(0) skewX(-8)" x="0.5">に</text>
<text font-family="'Liberation Sans', 'Noto Sans CJK JP', sans-serif" font-size="17.5" fill="#e6134a" textLength="35" lengthAdjust="spacingAndGlyphs" transform="translate(846.5 224.5) rotate(-2) skewX(-8)">訂正</text>
<path d="M861.5,233 C872.5,240 876.5,262 873.5,290 C871,315 869,338 868,353.5" fill="none" stroke="#e6134a" stroke-width="1.3" stroke-linecap="round" stroke-linejoin="round" />
<circle cx="867.8" cy="354" r="2.0" fill="#e6134a"/>
<text font-family="'Liberation Sans', sans-serif" font-size="24" fill="#e6134a" textLength="12.5" lengthAdjust="spacingAndGlyphs" transform="translate(978 29) rotate(-3) skewX(-12)" x="0.5">C</text>
<text font-family="'Liberation Sans', sans-serif" font-size="24" fill="#e6134a" textLength="8.5" lengthAdjust="spacingAndGlyphs" transform="translate(993.5 28.5) rotate(-3) skewX(-16)" x="-1.5">1</text>
<text font-family="'Liberation Sans', sans-serif" font-size="24" fill="#e6134a" textLength="8.5" lengthAdjust="spacingAndGlyphs" transform="translate(1003 28) rotate(-3) skewX(-16)" x="-1.5">1</text>
<text font-family="'Liberation Sans', sans-serif" font-size="24" fill="#e6134a" textLength="15" lengthAdjust="spacingAndGlyphs" transform="translate(1013 27.5) rotate(-3) skewX(-12)" x="0.5">A</text>
<path d="M1046,20.5 C1056,15 1070,12 1083.5,11.5" fill="none" stroke="#e6134a" stroke-width="1.1" stroke-linecap="round" stroke-linejoin="round" />
<path d="M1083.5,11.5 L1117,16" fill="none" stroke="#c01030" stroke-width="0.6" stroke-linecap="round" stroke-linejoin="round" />
<circle cx="1117.5" cy="16.3" r="1.5" fill="#c01030"/>
<text font-family="'Liberation Sans', sans-serif" font-size="21" fill="#e6134a" textLength="34" lengthAdjust="spacingAndGlyphs" transform="translate(1125.5 390) rotate(-3) skewX(-10)" x="0.5">C1A</text>
<path d="M1167.5,376 C1163,386 1160,395 1156,399.5 C1153,401.5 1150,400.5 1148.5,398.5" fill="none" stroke="#e6134a" stroke-width="1.1" stroke-linecap="round" stroke-linejoin="round" />
<text font-family="'Liberation Sans', sans-serif" font-size="24" fill="#e6134a" textLength="12" lengthAdjust="spacingAndGlyphs" transform="translate(1126.5 744.5) rotate(-8) skewX(-22)" x="0.5">N</text>
<text font-family="'Liberation Sans', sans-serif" font-size="14" fill="#e6134a" transform="translate(1141.5 742.5) rotate(-6) skewX(-15)">o</text>
<text font-family="'Liberation Sans', sans-serif" font-size="22" fill="#e6134a" transform="translate(1150 742) rotate(-3) skewX(-8)" x="-0.5">.</text>
<text font-family="'Liberation Sans', sans-serif" font-size="24" fill="#e6134a" textLength="10" lengthAdjust="spacingAndGlyphs" transform="translate(1155.5 741.5) rotate(-2) skewX(-12)">1</text>
<g font-family="'Liberation Sans', 'Noto Sans CJK JP', sans-serif" fill="#e6134a">
<text font-size="23" transform="translate(979.5 775.5) rotate(-2) skewX(-10)">3</text>
<text font-size="22" transform="translate(996.5 775.5) rotate(-2) skewX(-10)">F</text>
<text font-size="20" transform="translate(1017 775.5) rotate(-2) skewX(-10)" x="0.5">立</text>
<text font-size="19" transform="translate(1041.5 775.5) rotate(-2) skewX(-10)" x="0.5">上</text>
<text font-size="17" transform="translate(1060.5 775.5) rotate(-2) skewX(-10)" x="1">り</text>
<text font-size="22" transform="translate(1077.5 775.5) rotate(-2) skewX(-10)">4</text>
<text font-size="25" transform="translate(1094.5 775.5) rotate(-2) skewX(-10)" x="1">階</text>
<text font-size="20" transform="translate(1125.5 775.5) rotate(-2) skewX(-10)" x="1">梁</text>
<text font-size="23" textLength="91" lengthAdjust="spacingAndGlyphs" transform="translate(1005 804) rotate(-1) skewX(-10)" x="1.5">角度訂正</text>
</g>
<text font-family="Liberation Sans, sans-serif" font-size="16.5" fill="#d4122e" transform="translate(5 581) rotate(17) scale(1 1.22)" letter-spacing="0.6">C1K</text>
<text font-family="Liberation Sans, sans-serif" font-size="16.5" fill="#d4122e" transform="translate(142.5 628) rotate(18) scale(1 1.22)" letter-spacing="0.6">C1J</text>
<text font-family="Liberation Sans, sans-serif" font-size="16.5" fill="#d4122e" transform="translate(290 675.5) rotate(12) scale(1 1.22)" letter-spacing="0.6">C1H</text>
<text font-family="Liberation Sans, sans-serif" font-size="16.5" fill="#d4122e" transform="translate(427.5 705.5) rotate(12) scale(1 1.22)" letter-spacing="0.6">C1G</text>
<text font-family="Liberation Sans, sans-serif" font-size="16.5" fill="#d4122e" transform="translate(546.5 709) rotate(5) scale(1 1.22)" letter-spacing="0.6">C1F</text>
<text font-family="Liberation Sans, sans-serif" font-size="16.5" fill="#d4122e" transform="translate(659 690) rotate(-6) scale(1 1.22)" letter-spacing="0.6">C1E</text>
<text font-family="Liberation Sans, sans-serif" font-size="16.5" fill="#d4122e" transform="translate(824 642.5) rotate(-8) scale(1 1.22)" letter-spacing="0.6">C1D</text>
<text font-family="Liberation Sans, sans-serif" font-size="16.5" fill="#d4122e" transform="translate(970 595) rotate(-5) scale(1 1.22)" letter-spacing="0.6">C1C</text>
<text font-family="Liberation Sans, sans-serif" font-size="16.5" fill="#d4122e" transform="translate(1091 530.5) rotate(-4) scale(1 1.22)" letter-spacing="0.6">C1B</text>
<polyline points="156,260 148,296 140,326.5" fill="none" stroke="#9a1c1c" stroke-width="0.8" stroke-linecap="round" stroke-linejoin="round" />
<polyline points="252.5,297.7 240,330 228.7,359" fill="none" stroke="#9a1c1c" stroke-width="0.8" stroke-linecap="round" stroke-linejoin="round" />
<polyline points="288.7,311.5 279,343 271.2,371.5" fill="none" stroke="#9a1c1c" stroke-width="0.8" stroke-linecap="round" stroke-linejoin="round" />
<polyline points="380.7,345.2 371,375 359.5,406.5" fill="none" stroke="#9a1c1c" stroke-width="0.8" stroke-linecap="round" stroke-linejoin="round" />
<polyline points="412,357.7 404,390 397,418" fill="none" stroke="#9a1c1c" stroke-width="0.8" stroke-linecap="round" stroke-linejoin="round" />
<polyline points="500.7,387.7 494,408 486,432 480,446" fill="none" stroke="#9a1c1c" stroke-width="0.8" stroke-linecap="round" stroke-linejoin="round" />
<polyline points="675.2,371.5 677,395 681.5,418 690,432" fill="none" stroke="#9a1c1c" stroke-width="0.8" stroke-linecap="round" stroke-linejoin="round" />
<polyline points="784,331.5 790,365 791.5,399" fill="none" stroke="#9a1c1c" stroke-width="0.8" stroke-linecap="round" stroke-linejoin="round" />
<polyline points="783.5,332 789,365 792.4,395.6" fill="none" stroke="#9a1c1c" stroke-width="0.8" stroke-linecap="round" stroke-linejoin="round" />
<polyline points="882,294 893,325 900,354.4" fill="none" stroke="#9a1c1c" stroke-width="0.8" stroke-linecap="round" stroke-linejoin="round" />
<polyline points="170,339 200,344.5" fill="none" stroke="#f0608c" stroke-width="0.9" stroke-linecap="round" stroke-linejoin="round" stroke-dasharray="4 3"/>
<polyline points="163.5,351.5 197.5,361.5" fill="none" stroke="#f0608c" stroke-width="0.9" stroke-linecap="round" stroke-linejoin="round" stroke-dasharray="5 2"/>
</svg>
</body></html>
